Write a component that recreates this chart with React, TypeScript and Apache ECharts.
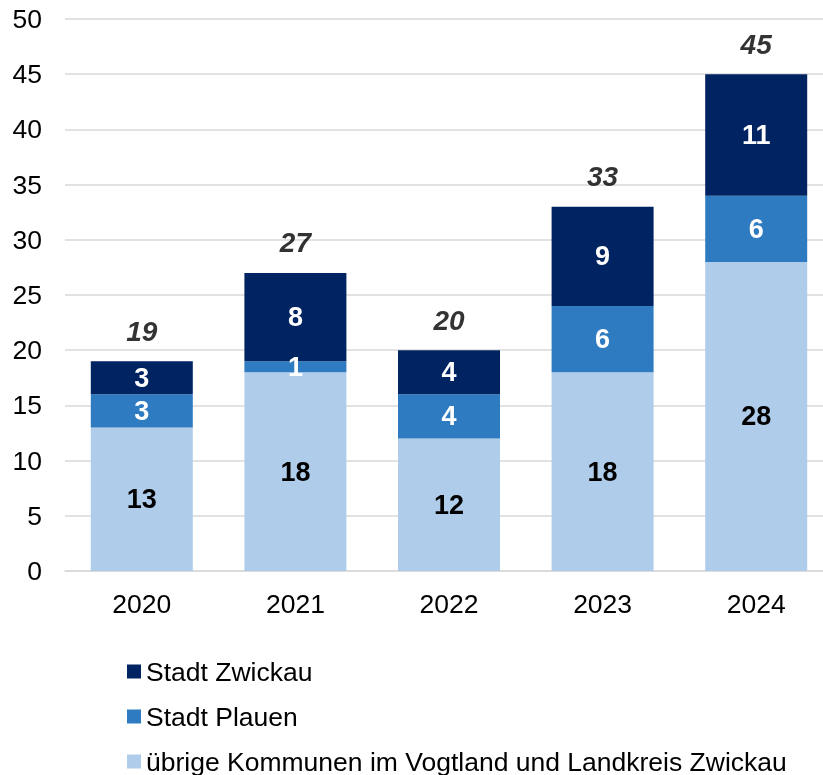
import React, { useEffect, useRef } from "react";
import * as echarts from "echarts";

const years = ["2020", "2021", "2022", "2023", "2024"];
const uebrige = [13, 18, 12, 18, 28];
const plauen = [3, 1, 4, 6, 6];
const zwickau = [3, 8, 4, 9, 11];
const yTicks = { min: 0, max: 50, interval: 5 };

const seriesNames = [
  "Stadt Zwickau",
  "Stadt Plauen",
  "übrige Kommunen im Vogtland und Landkreis Zwickau",
];

const FONT = "'Liberation Sans', Arial, sans-serif";

export default function App() {
  const ref = useRef<HTMLDivElement>(null);
  useEffect(() => {
    if (!ref.current) return;
    const chart = echarts.init(ref.current, null, { renderer: "svg" });
    const totals = years.map((_, i) => uebrige[i] + plauen[i] + zwickau[i]);
    const segLabel = (color: string) => ({
      show: true,
      position: "inside",
      color,
      fontFamily: FONT,
      fontSize: 27,
      fontWeight: "bold",
    });
    chart.setOption({
      animation: false,
      textStyle: { fontFamily: FONT },
      grid: { left: 65, width: 768, top: 19, bottom: 204, containLabel: false },
      legend: {
        orient: "vertical",
        left: 122,
        top: 653,
        height: 122,
        itemWidth: 14,
        itemHeight: 14,
        itemGap: 18,
        icon: "rect",
        data: seriesNames,
        textStyle: { fontFamily: FONT, fontSize: 26.5, color: "#000" },
      },
      xAxis: {
        type: "category",
        data: years,
        axisLine: { lineStyle: { color: "#D9D9D9", width: 1.5 } },
        axisTick: { show: false },
        axisLabel: { color: "#000", fontSize: 26.5, fontFamily: FONT, margin: 19 },
      },
      yAxis: {
        type: "value",
        min: yTicks.min,
        max: yTicks.max,
        interval: yTicks.interval,
        axisLine: { show: false },
        axisTick: { show: false },
        splitLine: { lineStyle: { color: "#D9D9D9", width: 1.5 } },
        axisLabel: { color: "#000", fontSize: 26.5, fontFamily: FONT, margin: 23 },
      },
      series: [
        {
          name: seriesNames[2],
          type: "bar",
          stack: "a",
          data: uebrige,
          barWidth: 102,
          itemStyle: { color: "#AFCDEA" },
          label: segLabel("#000"),
        },
        {
          name: seriesNames[1],
          type: "bar",
          stack: "a",
          data: plauen,
          barWidth: 102,
          itemStyle: { color: "#2E7BC1" },
          label: segLabel("#fff"),
        },
        {
          name: seriesNames[0],
          type: "bar",
          stack: "a",
          data: zwickau,
          barWidth: 102,
          itemStyle: { color: "#002462" },
          label: segLabel("#fff"),
        },
        {
          name: "Summe",
          type: "scatter",
          data: totals,
          symbolSize: 0,
          itemStyle: { color: "transparent" },
          label: {
            show: true,
            position: "top",
            distance: 16,
            color: "#000",
            fontFamily: FONT,
            fontSize: 28,
            fontWeight: "bold",
            fontStyle: "italic",
          },
          z: 10,
        },
      ],
    });
    return () => chart.dispose();
  }, []);
  return (
    <div
      style={{
        position: "fixed",
        left: 0,
        top: 0,
        width: 823,
        height: 775,
        overflow: "hidden",
      }}
    >
      <div ref={ref} style={{ width: 845, height: 775 }} />
    </div>
  );
}
